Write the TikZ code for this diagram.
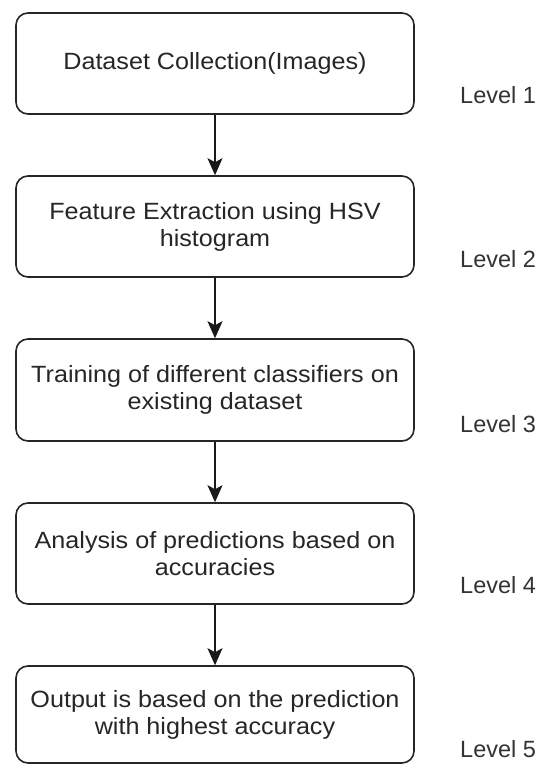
\documentclass[tikz,border=0pt]{standalone}
\usepackage{fontspec}
\setmainfont{Liberation Sans}
\newfontfamily\boxfont{Liberation Sans}[FakeStretch=1.07]
\usetikzlibrary{arrows.meta}
\begin{document}
\begin{tikzpicture}[x=1pt,y=-1pt,
  stepbox/.style={draw=black!85, line width=1.6pt, rounded corners=12pt,
    minimum width=398pt, align=center, inner sep=0pt,
    font=\boxfont\fontsize{23.5}{27}\selectfont, text=black!85},
  lvl/.style={anchor=base west, inner sep=0pt,
    font=\fontsize{23.5}{27}\selectfont, text=black!80},
  flow/.style={-{Stealth[length=17pt,width=15pt,inset=4pt]},
    line width=1.6pt, draw=black!90}]
\useasboundingbox (0,0) rectangle (550,765);
\fill[white] (0,0) rectangle (550,765);

\node[stepbox, minimum height=101pt] (b1) at (215,63.5)
  {\raisebox{-3pt}{Dataset Collection(Images)}};
\node[stepbox, minimum height=101pt] (b2) at (215,226.5)
  {Feature Extraction using HSV\\histogram};
\node[stepbox, minimum height=102pt] (b3) at (215,390)
  {Training of different classifiers on\\existing dataset};
\node[stepbox, minimum height=101pt] (b4) at (215,553.5)
  {Analysis of predictions based on\\accuracies};
\node[stepbox, minimum height=97pt] (b5) at (215,714.5)
  {Output is based on the prediction\\with highest accuracy};

\node[lvl] (l1) at (460,104) {Level 1};
\node[lvl] (l2) at (460,267) {Level 2};
\node[lvl] (l3) at (460,432) {Level 3};
\node[lvl] (l4) at (460,593) {Level 4};
\node[lvl] (l5) at (460,757) {Level 5};

\draw[flow] (b1.south) -- (b2.north);
\draw[flow] (b2.south) -- (b3.north);
\draw[flow] (b3.south) -- (b4.north);
\draw[flow] (b4.south) -- (b5.north);
\end{tikzpicture}
\end{document}
